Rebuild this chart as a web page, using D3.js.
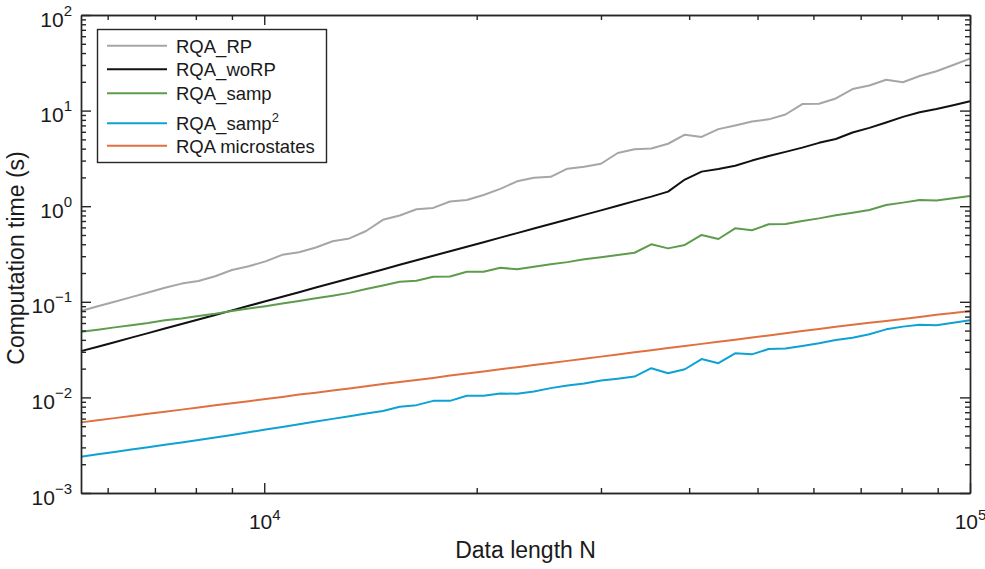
<!DOCTYPE html>
<html>
<head>
<meta charset="utf-8">
<script src="https://cdn.jsdelivr.net/npm/d3@7"></script>
<style>
  body { margin: 0; background: #fff; }
  text { font-family: "Liberation Sans", Arial, Helvetica, sans-serif; }
</style>
</head>
<body>
<div id="chart"></div>
<script>
// data length N (log spaced)
const dataLength = [5500, 5809, 6136, 6481, 6846, 7231, 7638, 8067, 8521, 9000,
  9507, 10041, 10606, 11203, 11833, 12499, 13202, 13944, 14728, 15557,
  16432, 17356, 18333, 19364, 20453, 21603, 22819, 24102, 25458, 26890,
  28402, 30000, 31687, 33470, 35352, 37341, 39441, 41660, 44003, 46479,
  49093, 51855, 54771, 57852, 61106, 64544, 68174, 72009, 76060, 80338,
  84857, 89630, 94672, 100000];

// computation time (s)
const rqaRP = [0.080, 0.090, 0.100, 0.112, 0.125, 0.140, 0.155, 0.165, 0.185, 0.215,
  0.235, 0.265, 0.31, 0.33, 0.37, 0.43, 0.46,
  0.55, 0.72, 0.80, 0.93, 0.96, 1.12, 1.16, 1.31, 1.52, 1.82, 1.98, 2.03, 2.47,
  2.58, 2.78, 3.6, 3.95, 4.02, 4.5,
  5.6, 5.3, 6.4, 7.0, 7.7, 8.1, 9.1, 11.7, 11.8, 13.4, 16.8, 18.3, 21.0, 19.8,
  23.0, 25.8, 30.0, 35.0];

const rqaWoRP = [0.0305, 0.0339, 0.0378, 0.0422, 0.0470, 0.0525, 0.0586, 0.0654, 0.0729, 0.0814,
  0.0908, 0.1013, 0.113, 0.126, 0.141, 0.157, 0.175, 0.195, 0.218, 0.244,
  0.272, 0.303, 0.338, 0.376, 0.420, 0.469, 0.523, 0.584, 0.651, 0.727,
  0.811, 0.905, 1.01, 1.13, 1.26, 1.42,
  1.9, 2.3, 2.45, 2.65, 3.0, 3.35, 3.7, 4.1, 4.6, 5.05, 5.9, 6.6, 7.5, 8.6,
  9.6, 10.4, 11.4, 12.5];

const rqaSamp = [0.0486, 0.051, 0.054, 0.057, 0.060, 0.064, 0.067, 0.071, 0.075, 0.080,
  0.085, 0.090, 0.096, 0.102, 0.109, 0.116, 0.124,
  0.136, 0.148, 0.162, 0.166, 0.183, 0.184, 0.206, 0.206, 0.227, 0.219, 0.233, 0.247, 0.26,
  0.278, 0.292, 0.309, 0.326, 0.399, 0.362,
  0.393, 0.50, 0.454, 0.587, 0.56, 0.647, 0.65, 0.70, 0.746, 0.803, 0.855, 0.912, 1.03, 1.09,
  1.16, 1.15, 1.21, 1.28];

const rqaSamp2 = [0.00240, 0.00254, 0.00269, 0.00285, 0.00301, 0.00319, 0.00338, 0.00358, 0.00380, 0.00405,
  0.00432, 0.00461, 0.00491, 0.00524, 0.00559, 0.00596, 0.00636,
  0.0068, 0.0072, 0.0080, 0.0083, 0.0092, 0.0092, 0.0104, 0.0104, 0.0110, 0.0109, 0.0115, 0.0125, 0.0133,
  0.0140, 0.0150, 0.0157, 0.0165, 0.0202, 0.0179,
  0.0197, 0.0252, 0.0228, 0.0289, 0.0282, 0.0321, 0.0324, 0.0345, 0.0368, 0.0398, 0.0421, 0.0457, 0.0515, 0.055,
  0.0576, 0.057, 0.0604, 0.064];

const rqaMicro = [0.00548, 0.00577, 0.00607, 0.00639, 0.00673, 0.00708, 0.00745, 0.00784, 0.00826, 0.00869,
  0.00914, 0.00962, 0.0101, 0.0107, 0.0112, 0.0118, 0.0124, 0.0131, 0.0138, 0.0145,
  0.0152, 0.0160, 0.0169, 0.0178, 0.0187, 0.0197, 0.0207, 0.0218, 0.0229, 0.0241,
  0.0254, 0.0267, 0.0281, 0.0296, 0.0312, 0.0328, 0.0345, 0.0363, 0.0382, 0.0402,
  0.0423, 0.0445, 0.0469, 0.0494, 0.0520, 0.0547, 0.0575, 0.0605, 0.0630, 0.0660,
  0.0695, 0.0730, 0.0765, 0.0800];

const seriesNames = ["RQA_RP", "RQA_woRP", "RQA_samp", "RQA_samp2", "RQA microstates"];
const seriesValues = [rqaRP, rqaWoRP, rqaSamp, rqaSamp2, rqaMicro];
const seriesColors = ["#a6a6a6", "#111111", "#5e9c4c", "#0ea2d4", "#e0703f"];

const xTicks = [1e4, 1e5];
const xMinor = [6000, 7000, 8000, 9000, 20000, 30000, 40000, 50000, 60000, 70000, 80000, 90000];
const yTicks = [1e-3, 1e-2, 1e-1, 1e0, 1e1, 1e2];
const yMinor = [];
[1e-3, 1e-2, 1e-1, 1e0, 1e1].forEach(d => {
  for (let m = 2; m <= 9; m++) yMinor.push(d * m);
});

// layout
const width = 985, height = 569;
const margin = { top: 15, right: 15, bottom: 76, left: 81 };
const w = width - margin.left - margin.right;
const h = height - margin.top - margin.bottom;
const axisColor = "#262626";

const svg = d3.select("#chart").append("svg")
  .attr("width", width)
  .attr("height", height);

const g = svg.append("g")
  .attr("transform", `translate(${margin.left},${margin.top})`);

const x = d3.scaleLog().domain([5500, 100000]).range([0, w]);
const y = d3.scaleLog().domain([1e-3, 1e2]).range([h, 0]);

// lines
const line = d3.line()
  .x((d, i) => x(dataLength[i]))
  .y(d => y(d));

g.selectAll(".series")
  .data(seriesValues)
  .join("path")
  .attr("class", "series")
  .attr("fill", "none")
  .attr("stroke", (d, i) => seriesColors[i])
  .attr("stroke-width", 2)
  .attr("stroke-linejoin", "round")
  .attr("d", line);

// superscript labels "10^n"
function powerLabel(sel, raise, expSize) {
  sel.each(function (d) {
    const t = d3.select(this);
    const e = Math.round(Math.log10(d));
    t.text(null);
    t.append("tspan").text("10");
    t.append("tspan")
      .attr("dy", -raise)
      .attr("font-size", expSize)
      .text(e < 0 ? "\u2212" + (-e) : e);
  });
}

function styleAxis(sel) {
  sel.attr("color", axisColor)
    .attr("font-family", null)
    .attr("font-size", null);
  sel.select(".domain").attr("stroke-width", 1.4);
  sel.selectAll(".tick line").attr("stroke-width", 1.4);
}

// minor ticks
g.append("g").attr("transform", `translate(0,${h})`)
  .call(d3.axisBottom(x).tickValues(xMinor).tickSize(-5).tickSizeOuter(0).tickFormat(""))
  .call(styleAxis);
g.append("g")
  .call(d3.axisTop(x).tickValues(xMinor).tickSize(-5).tickSizeOuter(0).tickFormat(""))
  .call(styleAxis);
g.append("g")
  .call(d3.axisLeft(y).tickValues(yMinor).tickSize(-5).tickSizeOuter(0).tickFormat(""))
  .call(styleAxis);
g.append("g").attr("transform", `translate(${w},0)`)
  .call(d3.axisRight(y).tickValues(yMinor).tickSize(-5).tickSizeOuter(0).tickFormat(""))
  .call(styleAxis);

// major ticks
const xAxis = g.append("g").attr("transform", `translate(0,${h})`)
  .call(d3.axisBottom(x).tickValues(xTicks).tickSize(-10).tickSizeOuter(0))
  .call(styleAxis);
xAxis.selectAll(".tick text")
  .attr("y", 36).attr("dy", 0)
  .attr("font-size", 21).attr("fill", "#1a1a1a")
  .call(powerLabel, 9, 15);

g.append("g")
  .call(d3.axisTop(x).tickValues(xTicks).tickSize(-10).tickSizeOuter(0).tickFormat(""))
  .call(styleAxis);

const yAxis = g.append("g")
  .call(d3.axisLeft(y).tickValues(yTicks).tickSize(-10).tickSizeOuter(0).tickPadding(9))
  .call(styleAxis);
yAxis.selectAll(".tick text")
  .attr("y", 11).attr("dy", 0)
  .attr("font-size", 21).attr("fill", "#1a1a1a")
  .call(powerLabel, 11, 15);

g.append("g").attr("transform", `translate(${w},0)`)
  .call(d3.axisRight(y).tickValues(yTicks).tickSize(-10).tickSizeOuter(0).tickFormat(""))
  .call(styleAxis);

// axis titles
svg.append("text")
  .attr("x", margin.left + w / 2)
  .attr("y", 558)
  .attr("text-anchor", "middle")
  .attr("font-size", 23)
  .attr("fill", "#1a1a1a")
  .text("Data length N");

svg.append("text")
  .attr("transform", `translate(24,${margin.top + h / 2 + 4}) rotate(-90)`)
  .attr("text-anchor", "middle")
  .attr("font-size", 23)
  .attr("fill", "#1a1a1a")
  .text("Computation time (s)");

// legend
const legendRows = [45.7, 69.3, 93.3, 123.3, 145.7];
const legend = svg.append("g");
legend.append("rect")
  .attr("x", 97.5).attr("y", 29.5)
  .attr("width", 229).attr("height", 133)
  .attr("fill", "#fff")
  .attr("stroke", axisColor)
  .attr("stroke-width", 1.4);

const item = legend.selectAll(".item")
  .data(seriesNames)
  .join("g")
  .attr("class", "item")
  .attr("transform", (d, i) => `translate(0,${legendRows[i]})`);

item.append("line")
  .attr("x1", 107).attr("x2", 167)
  .attr("stroke", (d, i) => seriesColors[i])
  .attr("stroke-width", 2);

item.append("text")
  .attr("x", 176)
  .attr("y", 7)
  .attr("font-size", 18.5)
  .attr("fill", "#1a1a1a")
  .each(function (d) {
    const t = d3.select(this);
    if (d === "RQA_samp2") {
      t.append("tspan").text("RQA_samp");
      t.append("tspan").attr("dy", -8).attr("font-size", 13).text("2");
    } else {
      t.text(d);
    }
  });
</script>
</body>
</html>
